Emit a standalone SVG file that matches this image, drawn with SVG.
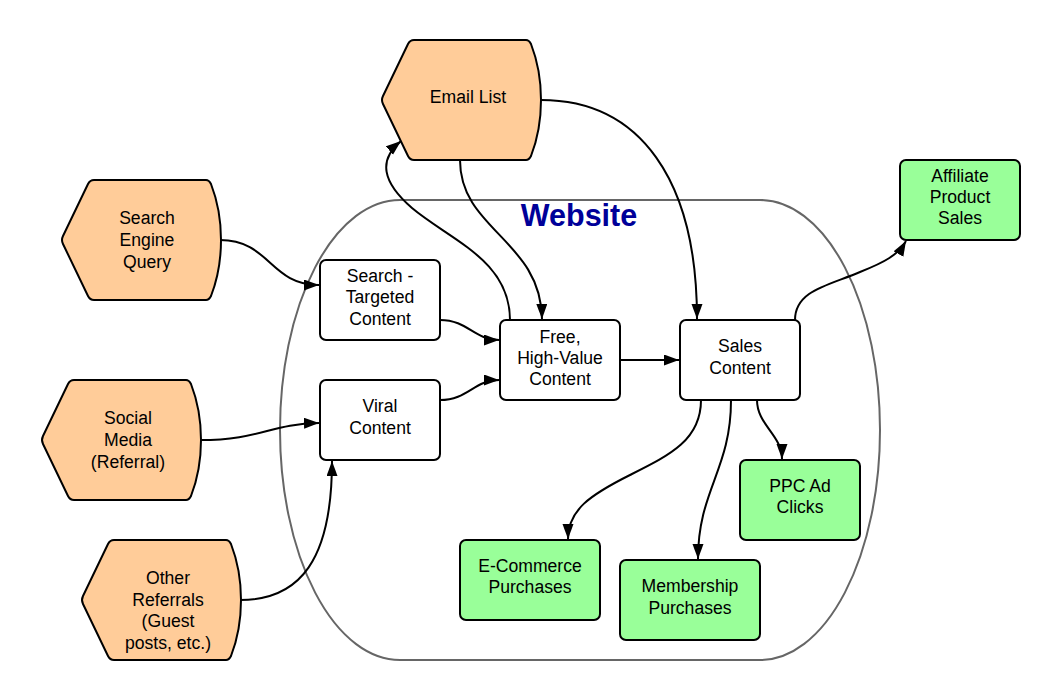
<svg xmlns="http://www.w3.org/2000/svg" xmlns:xlink="http://www.w3.org/1999/xlink" width="1060" height="700" viewBox="0 0 1060 700">
<style>
.src{fill:#FFCC99;stroke:#000;stroke-width:2}
.box{fill:#fff;stroke:#000;stroke-width:2}
.out{fill:#99FF99;stroke:#000;stroke-width:2}
.t{font-family:"Liberation Sans",Arial,sans-serif;font-size:17.6px;fill:#000;text-anchor:middle}
.c{fill:none;stroke:#000;stroke-width:2;marker-end:url(#ah)}
</style>
<defs>
<marker id="ah" markerUnits="userSpaceOnUse" markerWidth="16" markerHeight="12" refX="15" refY="5.5" orient="auto" viewBox="0 0 16 12">
<path d="M0,0 L15,5.5 L0,11 z" fill="#000"/>
</marker>
<path id="hex" d="M33,0 H145 Q148,0 150,4 C157,22 160,40 160,60 C160,80 157,98 150,116 Q148,120 145,120 H33 Q29,120 27,116 L2,64 Q0,60 2,56 L27,4 Q29,0 33,0 Z"/>
</defs>
<rect width="1060" height="700" fill="#fff"/>
<g id="website">
<rect x="280" y="200" width="600" height="460" rx="120" ry="230" fill="none" stroke="#666" stroke-width="2"/>
<text x="579" y="226" font-family="'Liberation Sans',Arial,sans-serif" font-size="30.5" font-weight="bold" fill="#000099" text-anchor="middle">Website</text>
</g>
<g id="connectors">
<path class="c" d="M220,240 C270,240 270,285 319,285"/>
<path class="c" d="M440,320 C468,320 474,340 499,340"/>
<path class="c" d="M440,400 C468,400 474,380 499,380"/>
<path class="c" d="M200,440 C260,440 270,424 319,423"/>
<path class="c" d="M240,600 C300,600 332,560 332,461"/>
<path class="c" d="M510,320 C510,260 450,240 412,208 C382,182 378,160 401,141"/>
<path class="c" d="M460,160 C460,230 541,240 542,319"/>
<path class="c" d="M541,100 C640,100 697,180 697,319"/>
<path class="c" d="M620,360 L679,360"/>
<path class="c" d="M795,320 C795,290 830,285 860,272 C885,262 898,255 906,241"/>
<path class="c" d="M701,400 C701,440 670,455 630,475 C590,495 568,510 568,539"/>
<path class="c" d="M731,400 C731,470 698,490 698,559"/>
<path class="c" d="M757,400 C757,425 782,435 782,459"/>
</g>
<g id="email-list">
<use xlink:href="#hex" href="#hex" class="src" transform="translate(381,40)"/>
<text class="t" x="468" y="103">Email List</text>
</g>
<g id="search-engine-query">
<use xlink:href="#hex" href="#hex" class="src" transform="translate(61,180)"/>
<text class="t" x="147" y="224">Search</text>
<text class="t" x="147" y="246">Engine</text>
<text class="t" x="147" y="268">Query</text>
</g>
<g id="social-media">
<use xlink:href="#hex" href="#hex" class="src" transform="translate(41,380)"/>
<text class="t" x="128" y="424">Social</text>
<text class="t" x="128" y="446">Media</text>
<text class="t" x="128" y="468">(Referral)</text>
</g>
<g id="other-referrals">
<use xlink:href="#hex" href="#hex" class="src" transform="translate(81,540)"/>
<text class="t" x="168" y="584">Other</text>
<text class="t" x="168" y="606">Referrals</text>
<text class="t" x="168" y="627">(Guest</text>
<text class="t" x="168" y="649">posts, etc.)</text>
</g>
<g id="search-targeted">
<rect class="box" x="320" y="260" width="120" height="80" rx="6"/>
<text class="t" x="380" y="282">Search -</text>
<text class="t" x="380" y="303">Targeted</text>
<text class="t" x="380" y="325">Content</text>
</g>
<g id="viral-content">
<rect class="box" x="320" y="380" width="120" height="80" rx="6"/>
<text class="t" x="380" y="412">Viral</text>
<text class="t" x="380" y="434">Content</text>
</g>
<g id="free-content">
<rect class="box" x="500" y="320" width="120" height="80" rx="6"/>
<text class="t" x="560" y="343">Free,</text>
<text class="t" x="560" y="364">High-Value</text>
<text class="t" x="560" y="385">Content</text>
</g>
<g id="sales-content">
<rect class="box" x="680" y="320" width="120" height="80" rx="6"/>
<text class="t" x="740" y="352">Sales</text>
<text class="t" x="740" y="374">Content</text>
</g>
<g id="affiliate">
<rect class="out" x="900" y="160" width="120" height="80" rx="6"/>
<text class="t" x="960" y="182">Affiliate</text>
<text class="t" x="960" y="203">Product</text>
<text class="t" x="960" y="224">Sales</text>
</g>
<g id="ppc">
<rect class="out" x="740" y="460" width="120" height="80" rx="6"/>
<text class="t" x="800" y="492">PPC Ad</text>
<text class="t" x="800" y="513">Clicks</text>
</g>
<g id="ecommerce">
<rect class="out" x="460" y="540" width="140" height="80" rx="6"/>
<text class="t" x="530" y="572">E-Commerce</text>
<text class="t" x="530" y="593">Purchases</text>
</g>
<g id="membership">
<rect class="out" x="620" y="560" width="140" height="80" rx="6"/>
<text class="t" x="690" y="592">Membership</text>
<text class="t" x="690" y="614">Purchases</text>
</g>
</svg>
